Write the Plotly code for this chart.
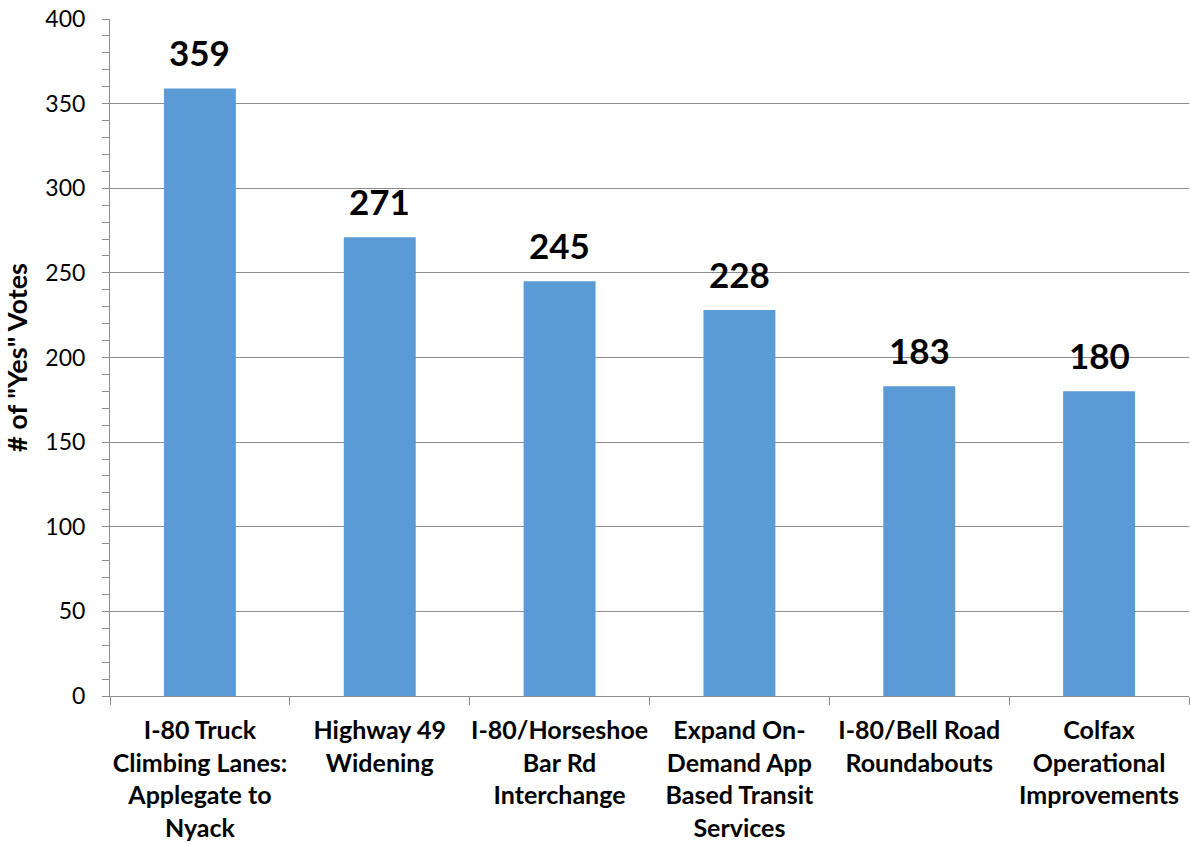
import plotly.graph_objects as go

categories = [
    "I-80 Truck<br>Climbing Lanes:<br>Applegate to<br>Nyack",
    "Highway 49<br>Widening",
    "I-80/Horseshoe<br>Bar Rd<br>Interchange",
    "Expand On-<br>Demand App<br>Based Transit<br>Services",
    "I-80/Bell Road<br>Roundabouts",
    "Colfax<br>Operational<br>Improvements",
]
votes = [359, 271, 245, 228, 183, 180]
y_ticks = [0, 50, 100, 150, 200, 250, 300, 350, 400]

FONT = "Lato"
GRAY = "#8c8c8c"

fig = go.Figure()
fig.add_trace(go.Bar(
    x=categories, y=votes, width=0.4,
    marker=dict(color="#5b9bd5", line=dict(width=0)),
))
for c, v in zip(categories, votes):
    fig.add_annotation(x=c, y=v, text=f"<b>{v}</b>", showarrow=False,
                       yanchor="bottom", yshift=13,
                       font=dict(family=FONT, size=35, color="black"))

fig.update_layout(
    width=1190, height=844,
    margin=dict(l=110, r=1, t=19, b=148),
    plot_bgcolor="white", paper_bgcolor="white",
    showlegend=False, bargap=0.6,
    font=dict(family=FONT, color="black"),
)
fig.update_yaxes(
    range=[0, 400], tickvals=y_ticks, automargin=False,
    showgrid=True, gridcolor=GRAY, gridwidth=1,
    showline=True, linecolor=GRAY, linewidth=1,
    ticks="outside", ticklen=7, tickcolor=GRAY,
    minor=dict(dtick=10, ticks="outside", ticklen=7, tickcolor=GRAY, showgrid=False),
    tickfont=dict(family=FONT, size=23, color="black"),
    ticklabelstandoff=12,
    zeroline=False,
    title=dict(text='<b># of "Yes" Votes</b>', font=dict(family=FONT, size=27, color="black"), standoff=10),
)
fig.update_xaxes(
    automargin=False,
    showline=True, linecolor=GRAY, linewidth=1,
    ticks="outside", ticklen=8, tickcolor=GRAY, tickson="boundaries",
    tickfont=dict(family=FONT, size=25, color="black"),
    tickprefix="<b>", ticksuffix="</b>",
    ticklabelstandoff=12,
    tickangle=0,
)

fig.write_html("out.html")
